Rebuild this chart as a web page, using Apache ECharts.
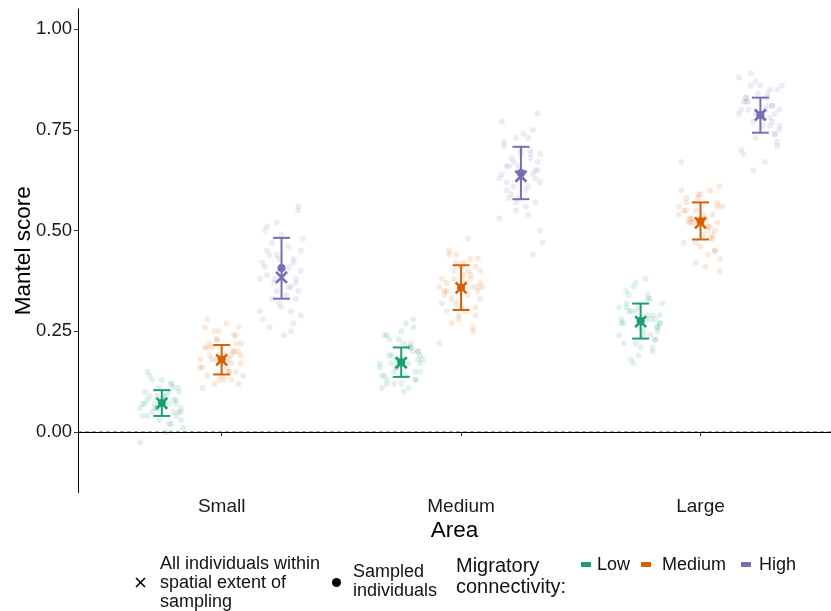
<!DOCTYPE html>
<html><head><meta charset="utf-8">
<script src="https://cdn.jsdelivr.net/npm/echarts@6/dist/echarts.min.js"></script>
<style>html,body{margin:0;padding:0;background:#fff}#c{width:831px;height:611px}</style>
</head><body><div id="c"></div>
<script>
const categories = ['Small', 'Medium', 'Large'];
const groups = ['Low', 'Medium', 'High'];
const yTicks = [0, 0.25, 0.5, 0.75, 1.0];

// means for all individuals within spatial extent (× marker), per area
const allLow = [0.071, 0.172, 0.274];
const allMed = [0.179, 0.358, 0.519];
const allHigh = [0.384, 0.635, 0.787];
// means for sampled individuals (● marker)
const sampledLow = [0.072, 0.173, 0.276];
const sampledMed = [0.180, 0.359, 0.524];
const sampledHigh = [0.407, 0.643, 0.787];
// error bar bounds
const errLowLo = [0.040, 0.137, 0.232], errLowHi = [0.104, 0.210, 0.319];
const errMedLo = [0.143, 0.303, 0.478], errMedHi = [0.216, 0.414, 0.570];
const errHighLo = [0.331, 0.578, 0.743], errHighHi = [0.482, 0.708, 0.830];

// jitter offsets (x, in category units)
const jitter = [-0.08,0.05,-0.02,0.07,-0.06,0.01,0.08,-0.04,0.03,-0.07,0.06,-0.01,0.04,-0.09,0.02,0.07,-0.05,0.00,0.09,-0.03,0.05,-0.08,0.03,-0.02,0.06,-0.06,0.08,0.01,-0.04,0.04,-0.07,0.02,0.07,-0.03,0.05,-0.09,0.00,0.06,-0.05,0.03,-0.01,0.08,-0.06,0.04,-0.02];
// individual replicate values
const ptsSmallLow = [0.07,0.05,0.09,0.11,0.04,0.08,0.06,0.13,0.02,0.10,0.07,0.03,0.12,0.06,0.09,0.05,0.14,0.08,0.01,0.07,0.11,0.04,0.10,0.06,0.08,0.15,0.03,0.09,0.05,0.12,0.07,0.00,0.10,0.06,0.08,-0.025,0.13,0.04,0.09,0.07,0.11,0.05,0.08,0.02,0.06];
const ptsSmallMed = [0.18,0.15,0.21,0.24,0.13,0.19,0.16,0.27,0.12,0.22,0.17,0.14,0.25,0.20,0.11,0.18,0.23,0.15,0.28,0.19,0.13,0.21,0.17,0.26,0.16,0.20,0.12,0.24,0.18,0.14,0.22,0.19,0.15,0.25,0.17,0.21,0.13,0.23,0.16,0.20,0.18,0.26,0.14,0.19,0.22];
const ptsSmallHigh = [0.40,0.35,0.44,0.31,0.48,0.38,0.27,0.42,0.36,0.52,0.33,0.45,0.29,0.39,0.47,0.25,0.41,0.34,0.55,0.37,0.43,0.30,0.49,0.38,0.26,0.46,0.32,0.40,0.51,0.36,0.44,0.28,0.42,0.35,0.56,0.39,0.24,0.45,0.33,0.41,0.50,0.37,0.43,0.30,0.38];
const ptsMediumLow = [0.17,0.14,0.20,0.23,0.12,0.18,0.15,0.26,0.11,0.21,0.16,0.13,0.24,0.19,0.10,0.17,0.22,0.14,0.27,0.18,0.12,0.20,0.16,0.25,0.15,0.19,0.11,0.23,0.17,0.13,0.21,0.18,0.14,0.28,0.16,0.20,0.12,0.22,0.15,0.19,0.17,0.24,0.13,0.18,0.21];
const ptsMediumMed = [0.36,0.32,0.40,0.44,0.29,0.37,0.33,0.42,0.27,0.39,0.35,0.30,0.43,0.38,0.26,0.36,0.41,0.31,0.45,0.34,0.28,0.40,0.35,0.43,0.32,0.38,0.25,0.42,0.36,0.30,0.39,0.37,0.33,0.48,0.34,0.41,0.29,0.38,0.22,0.37,0.35,0.44,0.31,0.36,0.40];
const ptsMediumHigh = [0.64,0.59,0.68,0.72,0.56,0.65,0.61,0.75,0.53,0.69,0.63,0.58,0.73,0.66,0.50,0.62,0.70,0.57,0.77,0.64,0.55,0.67,0.60,0.74,0.62,0.68,0.54,0.71,0.65,0.58,0.69,0.63,0.60,0.79,0.66,0.70,0.47,0.67,0.44,0.64,0.61,0.73,0.57,0.66,0.69];
const ptsLargeLow = [0.27,0.24,0.30,0.33,0.22,0.28,0.25,0.36,0.20,0.31,0.26,0.23,0.34,0.29,0.19,0.27,0.32,0.24,0.37,0.28,0.21,0.30,0.26,0.35,0.25,0.29,0.18,0.33,0.27,0.23,0.31,0.28,0.24,0.38,0.26,0.30,0.21,0.32,0.17,0.29,0.27,0.34,0.22,0.28,0.31];
const ptsLargeMed = [0.52,0.48,0.56,0.59,0.45,0.53,0.50,0.58,0.43,0.55,0.51,0.47,0.60,0.54,0.42,0.52,0.57,0.49,0.61,0.53,0.44,0.55,0.50,0.59,0.48,0.54,0.41,0.57,0.52,0.46,0.56,0.53,0.49,0.67,0.51,0.55,0.45,0.58,0.40,0.54,0.52,0.60,0.47,0.53,0.56];
const ptsLargeHigh = [0.79,0.76,0.82,0.85,0.73,0.80,0.77,0.87,0.71,0.83,0.78,0.75,0.86,0.81,0.69,0.79,0.84,0.76,0.88,0.80,0.72,0.82,0.78,0.86,0.77,0.81,0.70,0.84,0.79,0.74,0.83,0.80,0.76,0.89,0.78,0.82,0.67,0.85,0.65,0.81,0.79,0.86,0.74,0.80,0.83];

const colors = ['#1B9E77', '#D95F02', '#7570B3'];
const dodge = [-0.25, 0, 0.25];
const FONT = 'Liberation Sans, Arial, Helvetica, sans-serif';

const pts = [
  [ptsSmallLow, ptsMediumLow, ptsLargeLow],
  [ptsSmallMed, ptsMediumMed, ptsLargeMed],
  [ptsSmallHigh, ptsMediumHigh, ptsLargeHigh]
];
const allM = [allLow, allMed, allHigh];
const sampM = [sampledLow, sampledMed, sampledHigh];
const errLo = [errLowLo, errMedLo, errHighLo];
const errHi = [errLowHi, errMedHi, errHighHi];

const series = [];
// jittered points
groups.forEach((g, gi) => {
  const data = [];
  categories.forEach((c, ci) => {
    pts[gi][ci].forEach((v, k) => {
      const j = jitter[(k + gi * 7 + ci * 13) % jitter.length];
      data.push([ci + 1 + dodge[gi] + j, v]);
    });
  });
  series.push({
    type: 'scatter', data, symbol: 'circle', symbolSize: 6, silent: true,
    itemStyle: { color: colors[gi], opacity: 0.13 }, z: 1
  });
});
// error bars
groups.forEach((g, gi) => {
  const data = categories.map((c, ci) => [ci + 1 + dodge[gi], errLo[gi][ci], errHi[gi][ci]]);
  series.push({
    type: 'custom', z: 3, silent: true,
    renderItem: (params, api) => {
      const lo = api.coord([api.value(0), api.value(1)]);
      const hi = api.coord([api.value(0), api.value(2)]);
      const w = 8.5;
      const st = { stroke: colors[gi], lineWidth: 2 };
      return { type: 'group', children: [
        { type: 'line', shape: { x1: lo[0], y1: lo[1], x2: hi[0], y2: hi[1] }, style: st },
        { type: 'line', shape: { x1: lo[0] - w, y1: lo[1], x2: lo[0] + w, y2: lo[1] }, style: st },
        { type: 'line', shape: { x1: hi[0] - w, y1: hi[1], x2: hi[0] + w, y2: hi[1] }, style: st }
      ]};
    },
    data
  });
});
// sampled means (circles)
groups.forEach((g, gi) => {
  series.push({
    type: 'scatter', z: 4, silent: true, symbol: 'circle', symbolSize: 8,
    itemStyle: { color: colors[gi], opacity: 1 },
    data: categories.map((c, ci) => [ci + 1 + dodge[gi], sampM[gi][ci]])
  });
});
// all individuals means (× markers)
groups.forEach((g, gi) => {
  series.push({
    type: 'custom', z: 5, silent: true,
    renderItem: (params, api) => {
      const p = api.coord([api.value(0), api.value(1)]);
      const s = 5.5;
      const st = { stroke: colors[gi], lineWidth: 2.6 };
      return { type: 'group', children: [
        { type: 'line', shape: { x1: p[0] - s, y1: p[1] - s, x2: p[0] + s, y2: p[1] + s }, style: st },
        { type: 'line', shape: { x1: p[0] - s, y1: p[1] + s, x2: p[0] + s, y2: p[1] - s }, style: st }
      ]};
    },
    data: categories.map((c, ci) => [ci + 1 + dodge[gi], allM[gi][ci]])
  });
});
// zero reference line
series.push({
  type: 'custom', z: 0, silent: true,
  renderItem: (params, api) => {
    const a = api.coord([0.4, api.value(0)]);
    const b = api.coord([3.545, api.value(0)]);
    return { type: 'line', shape: { x1: a[0], y1: a[1], x2: b[0], y2: b[1] },
      style: { stroke: '#333', lineWidth: 1, lineDash: [4, 3] } };
  },
  data: [[0]]
});

const textStyle = { fontFamily: FONT, fontSize: 18, fill: '#111' };
const option = {
  animation: false,
  backgroundColor: '#fff',
  grid: { left: 78, right: 0, top: 9, bottom: 118.5, containLabel: false, outerBoundsMode: 'none' },
  xAxis: {
    type: 'value', min: 0.4, max: 3.545,
    name: 'Area', nameLocation: 'middle', nameGap: 27, nameMoveOverlap: false,
    nameTextStyle: { fontFamily: FONT, fontSize: 22.5, color: '#000' },
    axisLine: { show: true, lineStyle: { color: '#000', width: 1 } },
    axisTick: { show: true, length: 4, lineStyle: { color: '#333' }, customValues: [1, 2, 3] },
    axisLabel: { customValues: [1, 2, 3], margin: 5, fontFamily: FONT, fontSize: 19, color: '#1a1a1a',
      formatter: v => categories[Math.round(v) - 1] || '' },
    splitLine: { show: false }
  },
  yAxis: {
    type: 'value', min: -0.15, max: 1.05,
    name: 'Mantel score', nameLocation: 'middle', nameGap: 43, nameMoveOverlap: false,
    nameTextStyle: { fontFamily: FONT, fontSize: 22.5, color: '#000' },
    axisLine: { show: true, lineStyle: { color: '#000', width: 1 } },
    axisTick: { show: true, length: 4, lineStyle: { color: '#333' }, customValues: yTicks },
    axisLabel: { customValues: yTicks, margin: 6, fontFamily: FONT, fontSize: 18.5, color: '#1a1a1a',
      formatter: v => v.toFixed(2) },
    splitLine: { show: false }
  },
  series,
  graphic: [
    { type: 'group', children: [
      { type: 'line', shape: { x1: 136, y1: 578, x2: 145, y2: 587 }, style: { stroke: '#000', lineWidth: 1.6 } },
      { type: 'line', shape: { x1: 136, y1: 587, x2: 145, y2: 578 }, style: { stroke: '#000', lineWidth: 1.6 } },
      { type: 'text', left: 160, top: 555, style: Object.assign({ text: 'All individuals within\nspatial extent of\nsampling', lineHeight: 19 }, textStyle) },
      { type: 'circle', shape: { cx: 336.5, cy: 582.5, r: 4.5 }, style: { fill: '#000' } },
      { type: 'text', left: 353, top: 563, style: Object.assign({ text: 'Sampled\nindividuals', lineHeight: 19 }, textStyle) },
      { type: 'text', left: 456, top: 556, style: Object.assign({}, textStyle, { text: 'Migratory\nconnectivity:', lineHeight: 21, fontSize: 20 }) },
      { type: 'rect', shape: { x: 581, y: 562, width: 10, height: 5 }, style: { fill: colors[0] } },
      { type: 'text', left: 597, top: 556, style: Object.assign({ text: 'Low' }, textStyle) },
      { type: 'rect', shape: { x: 641, y: 562, width: 10, height: 5 }, style: { fill: colors[1] } },
      { type: 'text', left: 662, top: 556, style: Object.assign({ text: 'Medium' }, textStyle) },
      { type: 'rect', shape: { x: 741, y: 562, width: 10, height: 5 }, style: { fill: colors[2] } },
      { type: 'text', left: 759, top: 556, style: Object.assign({ text: 'High' }, textStyle) }
    ]}
  ]
};
const chart = echarts.init(document.getElementById('c'), null, { renderer: 'canvas' });
chart.setOption(option);
</script></body></html>
